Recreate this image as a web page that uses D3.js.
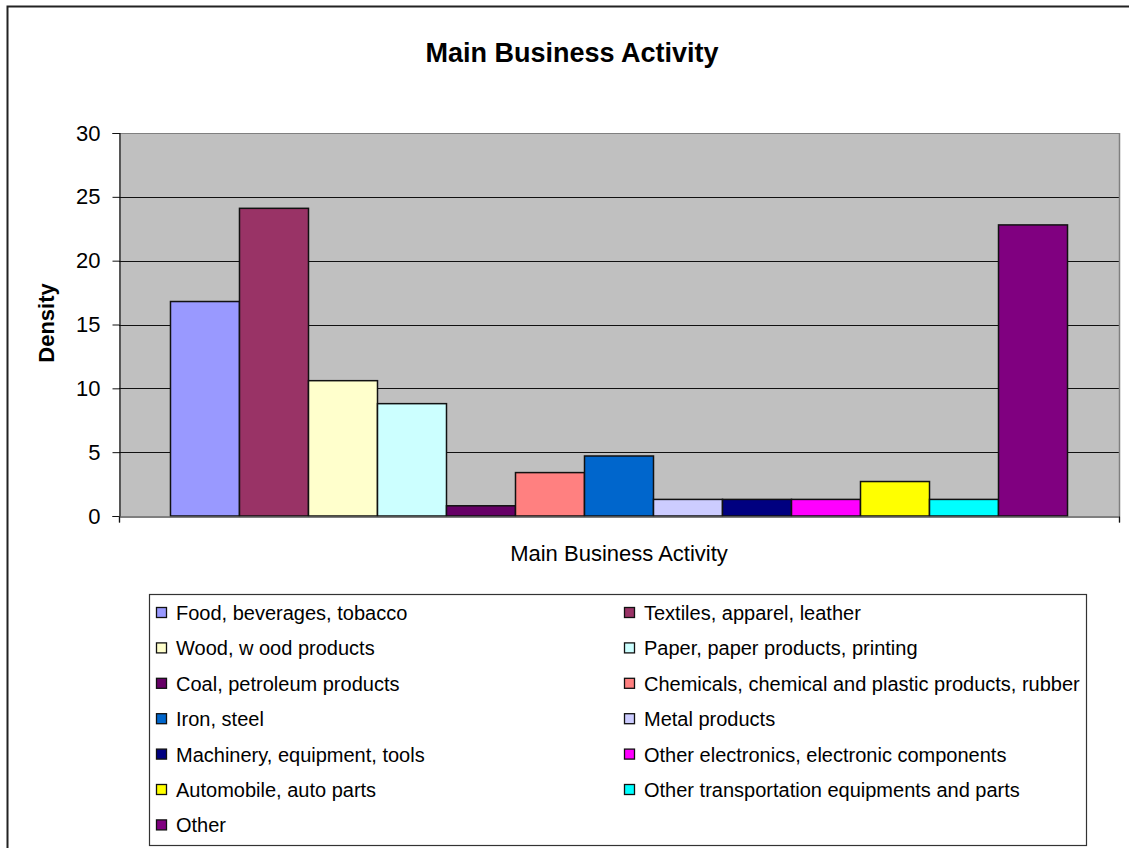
<!DOCTYPE html>
<html>
<head>
<meta charset="utf-8">
<script src="https://cdn.jsdelivr.net/npm/d3@7"></script>
<style>
  html, body { margin: 0; padding: 0; background: #fff; }
  svg { display: block; font-family: "Liberation Sans", Arial, sans-serif; }
</style>
</head>
<body>
<svg id="chart" width="1129" height="848"></svg>
<script>
// Share of firms by main business activity (density, %)
const chartTitle = "Main Business Activity";
const categoryLabel = "Main Business Activity";
const yLabel = "Density";
const activities = [
  "Food, beverages, tobacco",
  "Textiles, apparel, leather",
  "Wood, w ood products",
  "Paper, paper products, printing",
  "Coal, petroleum products",
  "Chemicals, chemical and plastic products, rubber",
  "Iron, steel",
  "Metal products",
  "Machinery, equipment, tools",
  "Other electronics, electronic components",
  "Automobile, auto parts",
  "Other transportation equipments and parts",
  "Other"
];
const density = [16.8, 24.1, 10.6, 8.8, 0.8, 3.4, 4.7, 1.3, 1.3, 1.3, 2.7, 1.3, 22.8];
const colors = ["#9999FF", "#993366", "#FFFFCC", "#CCFFFF", "#660066", "#FF8080",
                "#0066CC", "#CCCCFF", "#000080", "#FF00FF", "#FFFF00", "#00FFFF", "#800080"];
const yTicks = [0, 5, 10, 15, 20, 25, 30];

const svg = d3.select("#chart");

// Outer chart frame
svg.append("rect")
  .attr("x", 7.5).attr("y", 6.5)
  .attr("width", 1140).attr("height", 860)
  .attr("fill", "#fff").attr("stroke", "#222").attr("stroke-width", 2);

const plot = { left: 119, top: 133, right: 1119, bottom: 516 };
const pw = plot.right - plot.left, ph = plot.bottom - plot.top;

const g = svg.append("g").attr("transform", `translate(${plot.left},${plot.top})`);

const y = d3.scaleLinear().domain([0, 30]).range([ph, 0]);
const x0 = d3.scaleBand().domain([categoryLabel]).range([0, pw]).paddingInner(0).paddingOuter(0.0574);
const x1 = d3.scaleBand().domain(activities).range([0, x0.bandwidth()]);

// Plot background
g.append("rect").attr("width", pw).attr("height", ph).attr("fill", "#C0C0C0");

// Gridlines
g.append("g").selectAll("line").data(yTicks.filter(t => t > 0)).join("line")
  .attr("x1", 0).attr("x2", pw)
  .attr("y1", d => Math.round(y(d)) + 0.5).attr("y2", d => Math.round(y(d)) + 0.5)
  .attr("stroke", d => d === 30 ? "#808080" : "#111").attr("stroke-width", 1);

// Plot border on the right
g.append("line").attr("x1", pw + 0.5).attr("x2", pw + 0.5).attr("y1", 0).attr("y2", ph)
  .attr("stroke", "#808080").attr("stroke-width", 1.5);

// Bars
const bars = g.append("g").attr("transform", `translate(${x0(categoryLabel)},0)`);
bars.selectAll("rect").data(activities).join("rect")
  .attr("x", d => x1(d))
  .attr("width", x1.bandwidth())
  .attr("y", (d, i) => y(density[i]))
  .attr("height", (d, i) => ph - y(density[i]))
  .attr("fill", (d, i) => colors[i])
  .attr("stroke", "#111").attr("stroke-width", 1.5);

// Y axis
const yAxis = g.append("g").attr("transform", "translate(0.5,0)")
  .call(d3.axisLeft(y).tickValues(yTicks).tickSize(7).tickPadding(12).tickFormat(d3.format("d")));
yAxis.select(".domain").attr("stroke", "#111").attr("stroke-width", 1.2);
yAxis.selectAll(".tick line").attr("stroke", "#111");
yAxis.selectAll("text").attr("font-size", 22).attr("fill", "#000")
  .attr("font-family", "'Liberation Sans', Arial, sans-serif");

// X axis
const xAxis = g.append("g").attr("transform", `translate(0,${ph + 0.5})`)
  .call(d3.axisBottom(d3.scaleLinear().domain([0, 1]).range([0, pw])).tickValues([0, 1]).tickSize(6).tickFormat(""));
xAxis.select(".domain").attr("stroke", "#555").attr("stroke-width", 1.5);
xAxis.selectAll(".tick line").attr("stroke", "#111");

// Titles
svg.append("text").attr("x", 572).attr("y", 62).attr("text-anchor", "middle")
  .attr("font-size", 27).attr("font-weight", "bold").text(chartTitle);
svg.append("text").attr("x", plot.left + pw / 2).attr("y", 561).attr("text-anchor", "middle")
  .attr("font-size", 22).text(categoryLabel);
svg.append("text").attr("transform", "translate(54,323) rotate(-90)").attr("text-anchor", "middle")
  .attr("font-size", 22).attr("font-weight", "bold").text(yLabel);

// Legend
const legend = { x: 149, y: 594, w: 937, h: 251, rowH: 35.4, firstRow: 613, colX: [156, 624] };
svg.append("rect").attr("x", legend.x + 0.5).attr("y", legend.y + 0.5)
  .attr("width", legend.w).attr("height", legend.h)
  .attr("fill", "#fff").attr("stroke", "#333").attr("stroke-width", 1.2);
const items = svg.append("g").selectAll("g").data(activities).join("g")
  .attr("transform", (d, i) => `translate(${legend.colX[i % 2]},${legend.firstRow + Math.floor(i / 2) * legend.rowH})`);
items.append("rect").attr("x", 0.5).attr("y", -5.5).attr("width", 10).attr("height", 10)
  .attr("fill", (d, i) => colors[i]).attr("stroke", "#111").attr("stroke-width", 1.3);
items.append("text").attr("x", 20).attr("y", 7).attr("font-size", 20).text(d => d);
</script>
</body>
</html>
